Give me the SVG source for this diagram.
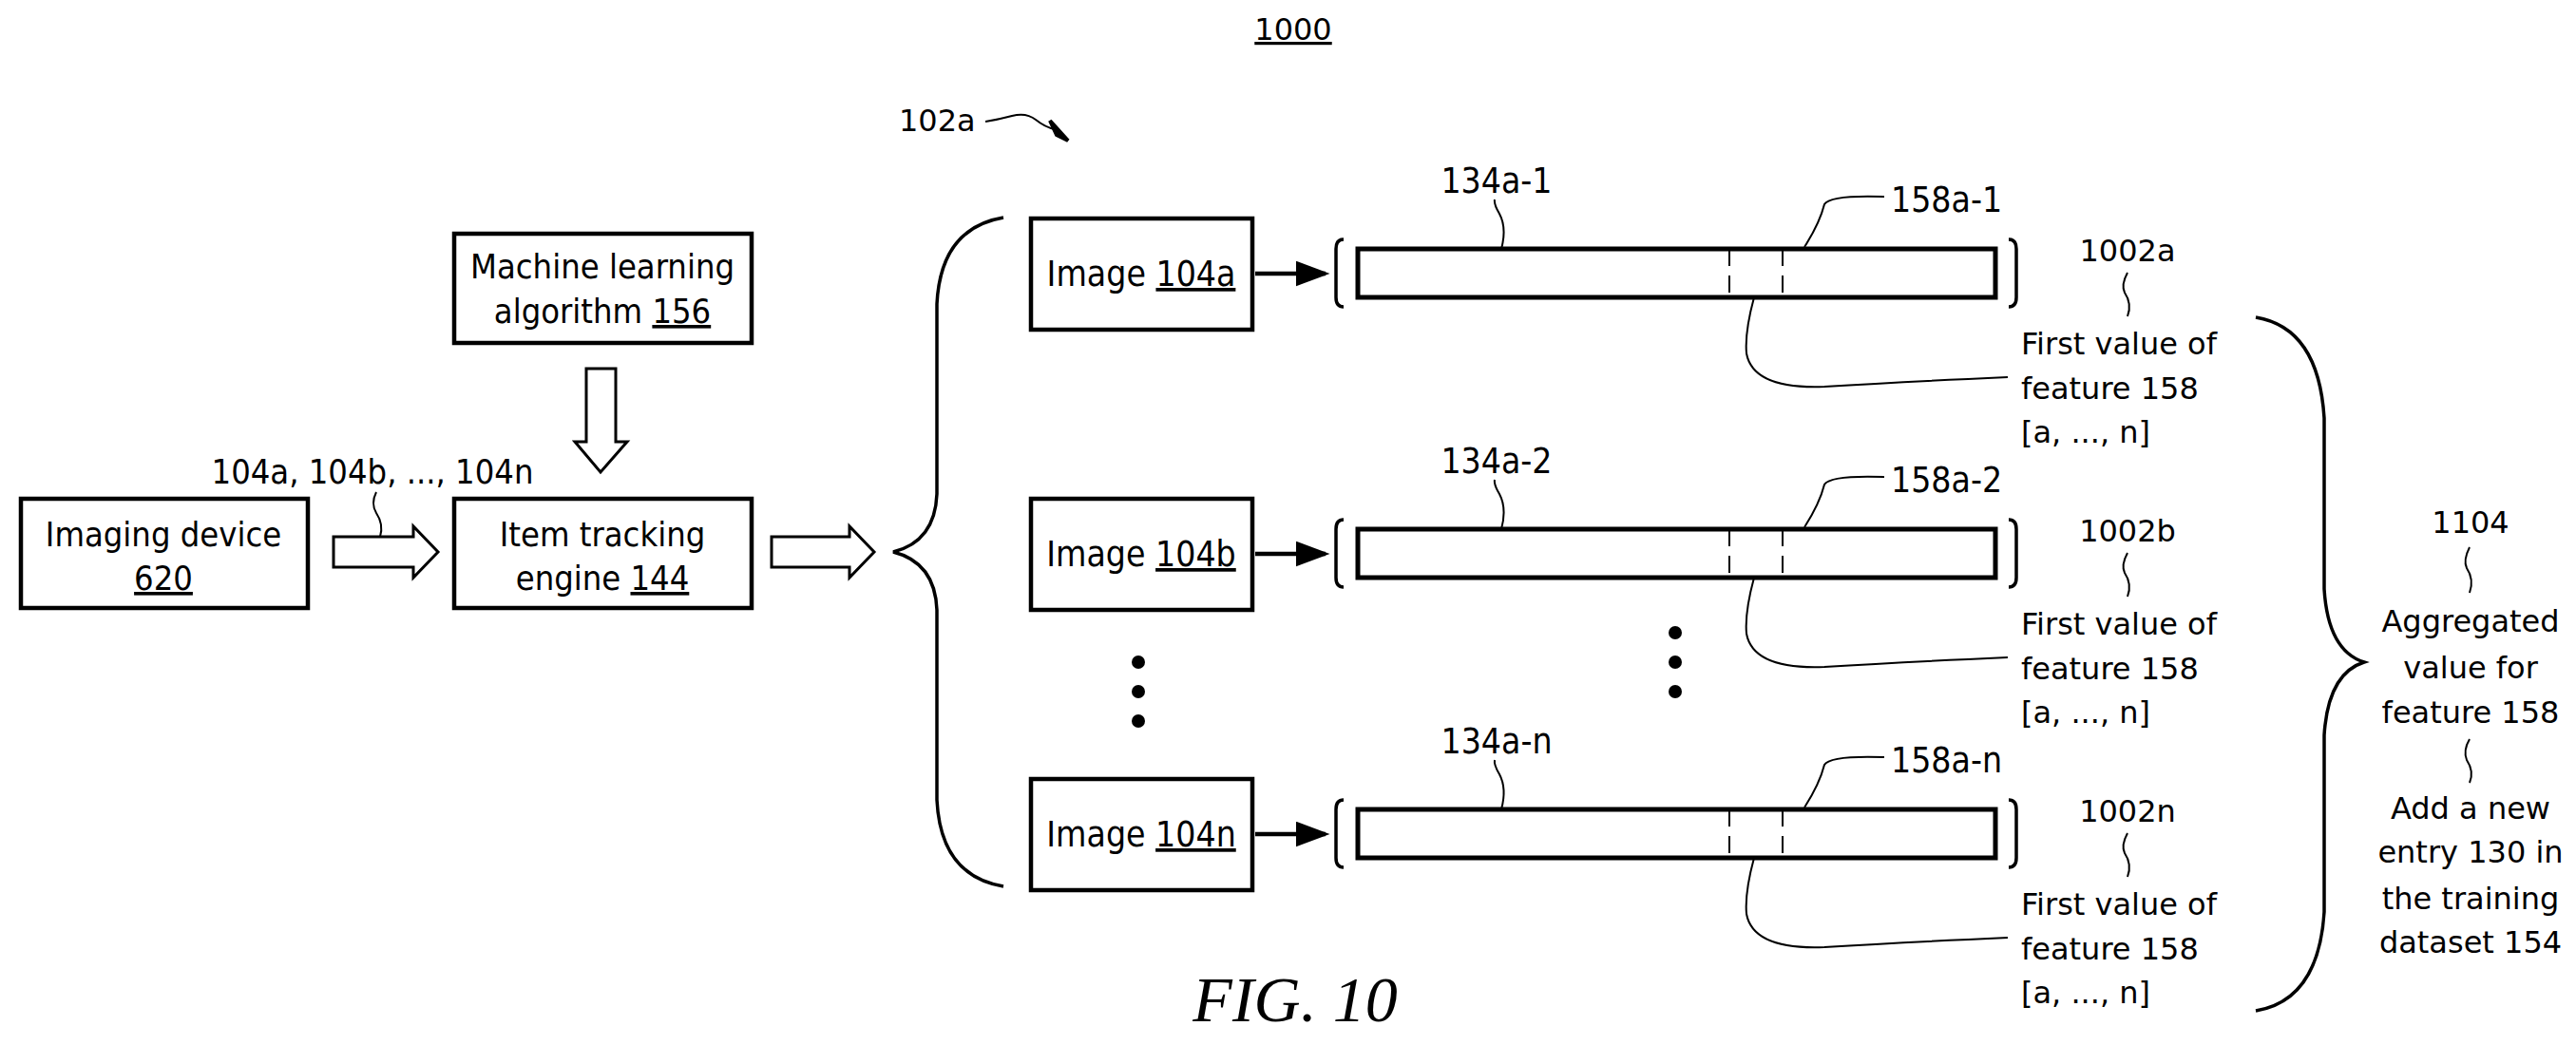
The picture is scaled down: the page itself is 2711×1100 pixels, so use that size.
<svg xmlns="http://www.w3.org/2000/svg" width="2711" height="1100" viewBox="0 0 2711 1100">
<style>
.box{fill:#fff;stroke:#000;stroke-width:4.5}
.t{font-family:"DejaVu Sans Condensed","DejaVu Sans",sans-serif;font-size:36px;fill:#000}
.c{font-family:"DejaVu Sans Condensed","DejaVu Sans",sans-serif;font-size:37px;fill:#000}
.v{font-family:"DejaVu Sans",sans-serif;font-size:32px;fill:#000}
.ln{fill:none;stroke:#000;stroke-width:2}
.br{fill:none;stroke:#000;stroke-width:3.5}
.bar{fill:#fff;stroke:#000;stroke-width:5}
.dash{stroke:#000;stroke-width:2;stroke-dasharray:18 10}
.ha{fill:#fff;stroke:#000;stroke-width:3}
</style>
<defs>
<marker id="ah" markerWidth="8" markerHeight="6" refX="7" refY="3" orient="auto" markerUnits="strokeWidth"><path d="M0,0 L8,3 L0,6 Z" fill="#000"/></marker>
<g id="row">
<rect class="box" x="1085" y="230" width="233" height="117"/>
<line x1="1321" y1="288" x2="1395" y2="288" stroke="#000" stroke-width="4.5" marker-end="url(#ah)"/>
<path class="br" d="M1414,252 Q1406,252 1406,262 L1406,313 Q1406,323 1414,323"/>
<rect class="bar" x="1429" y="262" width="671" height="51"/>
<line class="dash" x1="1820" y1="262" x2="1820" y2="313"/>
<line class="dash" x1="1876" y1="262" x2="1876" y2="313"/>
<path class="br" d="M2114,252 Q2122,252 2122,262 L2122,313 Q2122,323 2114,323"/>
<path class="ln" d="M1580,262 Q1586,240 1578,225 Q1572,215 1573,210"/>
<path class="ln" d="M1899,260 Q1915,235 1920,215 Q1926,205 1983,207"/>
<path class="ln" d="M1846,313 Q1836,350 1838,372 Q1845,410 1920,407 Q2000,402 2113,397"/>
<path class="ln" d="M2239,287 Q2232,300 2236,308 Q2244,320 2239,333"/>
</g>
</defs>

<text x="1361" y="42" class="v" text-anchor="middle" text-decoration="underline">1000</text>
<text x="1363" y="1075" font-family="Liberation Serif, serif" font-style="italic" font-size="68" text-anchor="middle">FIG. 10</text>

<g id="imaging-device">
<rect class="box" x="22" y="525" width="302" height="115"/>
<text class="t" x="172" y="575" text-anchor="middle">Imaging device</text>
<text class="t" x="172" y="621" text-anchor="middle" text-decoration="underline">620</text>
</g>
<g id="ml-algorithm">
<rect class="box" x="478" y="246" width="313" height="115"/>
<text class="t" x="634" y="293" text-anchor="middle">Machine learning</text>
<text class="t" x="634" y="340" text-anchor="middle">algorithm <tspan text-decoration="underline">156</tspan></text>
</g>
<g id="item-tracking">
<rect class="box" x="478" y="525" width="313" height="115"/>
<text class="t" x="634" y="575" text-anchor="middle">Item tracking</text>
<text class="t" x="634" y="621" text-anchor="middle">engine <tspan text-decoration="underline">144</tspan></text>
</g>

<g id="connectors">
<path class="ha" d="M351,565 L435,565 L435,554 L461,581 L435,608 L435,597 L351,597 Z"/>
<path class="ha" d="M812,565 L894,565 L894,554 L920,581 L894,608 L894,597 L812,597 Z"/>
<path class="ha" d="M617,388 L648,388 L648,465 L660,465 L632,497 L605,465 L617,465 Z"/>
<text class="t" x="392" y="509" text-anchor="middle">104a, 104b, ..., 104n</text>
<path class="ln" d="M396,518 Q390,530 396,540 Q404,552 400,565"/>
<path class="br" d="M1056,229 Q990,240 986,320 L986,520 Q984,570 940,581 Q984,592 986,642 L986,842 Q990,922 1056,933"/>
<text class="v" x="946" y="138">102a</text>
<path class="ln" d="M1037,128 Q1050,126 1065,122 Q1080,118 1090,126 Q1100,134 1110,136"/>
<path d="M1105,127 L1124,148 L1112,142 Z" fill="#000" stroke="#000" stroke-width="4"/>
<circle cx="1198" cy="697" r="7"/><circle cx="1198" cy="728" r="7"/><circle cx="1198" cy="759" r="7"/>
<circle cx="1763" cy="666" r="7"/><circle cx="1763" cy="697" r="7"/><circle cx="1763" cy="728" r="7"/>
<path class="br" d="M2374,334 Q2440,345 2446,440 L2446,620 Q2450,685 2488,697 Q2450,709 2446,774 L2446,960 Q2440,1053 2374,1064"/>
<path class="ln" d="M2599,576 Q2592,590 2596,598 Q2604,610 2599,624"/>
<path class="ln" d="M2599,778 Q2592,790 2596,800 Q2604,812 2599,824"/>
</g>

<g id="row-a">
<use href="#row"/>
<text class="c" x="1201" y="301" text-anchor="middle">Image <tspan text-decoration="underline">104a</tspan></text>
<text class="c" x="1575" y="203" text-anchor="middle">134a-1</text>
<text class="c" x="1990" y="223">158a-1</text>
<text class="v" x="2239" y="275" text-anchor="middle">1002a</text>
<text class="v" x="2127" y="373">First value of</text>
<text class="v" x="2127" y="420">feature 158</text>
<text class="v" x="2127" y="466">[a, ..., n]</text>
</g>
<g id="row-b" transform="translate(0,295)">
<use href="#row"/>
<text class="c" x="1201" y="301" text-anchor="middle">Image <tspan text-decoration="underline">104b</tspan></text>
<text class="c" x="1575" y="203" text-anchor="middle">134a-2</text>
<text class="c" x="1990" y="223">158a-2</text>
<text class="v" x="2239" y="275" text-anchor="middle">1002b</text>
<text class="v" x="2127" y="373">First value of</text>
<text class="v" x="2127" y="420">feature 158</text>
<text class="v" x="2127" y="466">[a, ..., n]</text>
</g>
<g id="row-n" transform="translate(0,590)">
<use href="#row"/>
<text class="c" x="1201" y="301" text-anchor="middle">Image <tspan text-decoration="underline">104n</tspan></text>
<text class="c" x="1575" y="203" text-anchor="middle">134a-n</text>
<text class="c" x="1990" y="223">158a-n</text>
<text class="v" x="2239" y="275" text-anchor="middle">1002n</text>
<text class="v" x="2127" y="373">First value of</text>
<text class="v" x="2127" y="420">feature 158</text>
<text class="v" x="2127" y="466">[a, ..., n]</text>
</g>

<g id="aggregated">
<text class="v" x="2600" y="561" text-anchor="middle">1104</text>
<text class="v" x="2600" y="665" text-anchor="middle">Aggregated</text>
<text class="v" x="2600" y="714" text-anchor="middle">value for</text>
<text class="v" x="2600" y="761" text-anchor="middle">feature 158</text>
<text class="v" x="2600" y="862" text-anchor="middle">Add a new</text>
<text class="v" x="2600" y="908" text-anchor="middle">entry 130 in</text>
<text class="v" x="2600" y="957" text-anchor="middle">the training</text>
<text class="v" x="2600" y="1003" text-anchor="middle">dataset 154</text>
</g>
</svg>
